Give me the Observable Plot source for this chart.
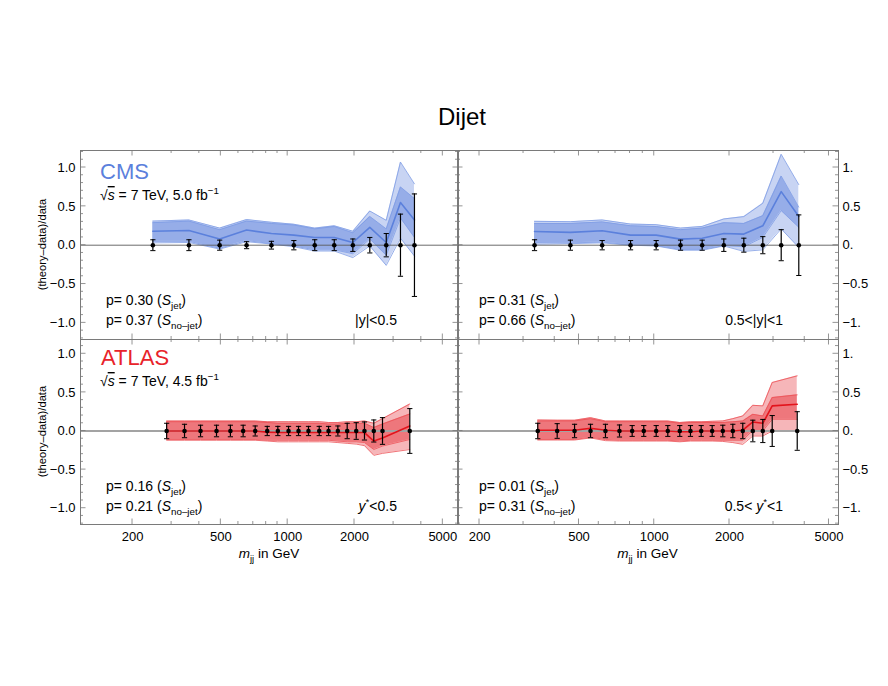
<!DOCTYPE html>
<html><head><meta charset="utf-8">
<script src="https://cdn.jsdelivr.net/npm/d3@7"></script>
<script src="https://cdn.jsdelivr.net/npm/@observablehq/plot@0.6"></script>
<style>
body{margin:0;background:#fff;font-family:"Liberation Sans",Arial,sans-serif;}
#root{position:relative;width:888px;height:686px;overflow:hidden;}
#root svg{position:absolute;left:0;top:0;}
#title{position:absolute;left:0;width:924px;top:103px;text-align:center;font-size:24px;color:#000;}
</style></head><body><div id="root"><div id="title">Dijet</div></div>
<script>
// ---------- DATA ----------
// CMS, |y|<0.5
const cmsAMass    = [247, 359, 494, 653, 845, 1066, 1324, 1621, 1966, 2344, 2780, 3222, 3725];
const cmsACentral = [0.18, 0.19, 0.08, 0.195, 0.15, 0.13, 0.10, 0.10, 0.035, 0.23, 0.035, 0.55, 0.325];
const cmsAInnerHi = [0.29, 0.31, 0.20, 0.31, 0.28, 0.26, 0.21, 0.24, 0.16, 0.37, 0.21, 0.75, 0.60];
const cmsAInnerLo = [0.05, 0.05, -0.04, 0.06, 0.02, -0.01, -0.06, -0.06, -0.11, 0.08, -0.13, 0.35, 0.10];
const cmsAOuterHi = [0.31, 0.325, 0.22, 0.33, 0.295, 0.27, 0.22, 0.25, 0.18, 0.44, 0.32, 1.07, 0.79];
const cmsAOuterLo = [0.03, 0.035, -0.05, 0.045, 0.015, -0.02, -0.075, -0.075, -0.16, -0.01, -0.26, 0.09, -0.14];
const cmsAErr     = [0.07, 0.07, 0.065, 0.045, 0.05, 0.06, 0.07, 0.07, 0.08, 0.10, 0.15, 0.40, 0.66];
// CMS, 0.5<|y|<1
const cmsBMass    = [332, 462, 619, 804, 1018, 1274, 1555, 1898, 2282, 2718, 3220, 3786];
const cmsBCentral = [0.177, 0.165, 0.186, 0.13, 0.13, 0.078, 0.09, 0.15, 0.143, 0.25, 0.69, 0.37];
const cmsBInnerHi = [0.28, 0.28, 0.30, 0.25, 0.24, 0.20, 0.22, 0.29, 0.28, 0.38, 0.89, 0.49];
const cmsBInnerLo = [0.034, 0.03, 0.04, 0.005, -0.005, -0.055, -0.055, -0.005, -0.02, 0.10, 0.445, 0.23];
const cmsBOuterHi = [0.307, 0.303, 0.325, 0.272, 0.264, 0.22, 0.242, 0.338, 0.368, 0.54, 1.17, 0.78];
const cmsBOuterLo = [0.013, 0.02, 0.03, 0.0, -0.01, -0.065, -0.065, -0.01, -0.08, -0.06, 0.21, -0.03];
const cmsBErr     = [0.07, 0.065, 0.06, 0.06, 0.06, 0.065, 0.065, 0.08, 0.09, 0.11, 0.20, 0.39];
// ATLAS, y*<0.5
const atlasAMass    = [285, 343, 405, 478, 552, 630, 714, 809, 903, 1009, 1119, 1241, 1387, 1528, 1683, 1854, 2036, 2218, 2443, 2674, 3549];
const atlasACentral = [0.0, 0.0, 0.0, 0.0, 0.0, 0.0, 0.0, -0.015, -0.02, -0.02, -0.02, -0.02, -0.02, -0.02, -0.02, -0.02, -0.02, -0.02, -0.13, -0.09, 0.065];
const atlasAInnerHi = [0.12, 0.12, 0.12, 0.12, 0.12, 0.12, 0.12, 0.11, 0.10, 0.10, 0.10, 0.10, 0.10, 0.09, 0.09, 0.10, 0.10, 0.10, 0.045, 0.09, 0.22];
const atlasAInnerLo = [-0.11, -0.11, -0.11, -0.11, -0.11, -0.11, -0.11, -0.12, -0.12, -0.12, -0.12, -0.12, -0.12, -0.12, -0.13, -0.14, -0.14, -0.15, -0.24, -0.195, -0.11];
const atlasAOuterHi = [0.13, 0.13, 0.13, 0.13, 0.13, 0.13, 0.13, 0.12, 0.12, 0.12, 0.12, 0.12, 0.12, 0.11, 0.11, 0.12, 0.12, 0.13, 0.10, 0.16, 0.35];
const atlasAOuterLo = [-0.12, -0.12, -0.12, -0.12, -0.12, -0.12, -0.12, -0.13, -0.14, -0.14, -0.14, -0.14, -0.14, -0.14, -0.15, -0.16, -0.17, -0.19, -0.315, -0.29, -0.24];
const atlasAErr     = [0.10, 0.087, 0.075, 0.075, 0.075, 0.075, 0.065, 0.06, 0.06, 0.06, 0.06, 0.06, 0.06, 0.06, 0.065, 0.10, 0.108, 0.117, 0.143, 0.173, 0.29];
// ATLAS, 0.5<y*<1
const atlasBMass    = [342, 409, 480, 556, 638, 726, 816, 908, 1018, 1133, 1265, 1396, 1541, 1705, 1880, 2062, 2260, 2479, 2718, 2964, 3732];
const atlasBCentral = [0.01, 0.01, 0.01, 0.035, 0.01, 0.0, 0.0, 0.0, 0.0, 0.0, -0.01, -0.01, 0.0, 0.0, 0.0, 0.0, 0.01, 0.117, 0.10, 0.325, 0.346];
const atlasBInnerHi = [0.13, 0.13, 0.13, 0.16, 0.12, 0.12, 0.12, 0.12, 0.12, 0.12, 0.10, 0.11, 0.11, 0.11, 0.11, 0.12, 0.13, 0.216, 0.195, 0.433, 0.468];
const atlasBInnerLo = [-0.11, -0.11, -0.11, -0.08, -0.11, -0.12, -0.12, -0.12, -0.12, -0.12, -0.13, -0.12, -0.12, -0.12, -0.12, -0.12, -0.12, 0.009, 0.0, 0.152, 0.152];
const atlasBOuterHi = [0.143, 0.14, 0.14, 0.173, 0.13, 0.13, 0.13, 0.13, 0.13, 0.13, 0.11, 0.12, 0.12, 0.125, 0.13, 0.16, 0.195, 0.333, 0.325, 0.628, 0.714];
const atlasBOuterLo = [-0.117, -0.117, -0.117, -0.09, -0.125, -0.13, -0.13, -0.13, -0.13, -0.13, -0.14, -0.13, -0.13, -0.13, -0.135, -0.15, -0.173, -0.065, -0.065, 0.0, 0.0];
const atlasBErr     = [0.10, 0.095, 0.087, 0.087, 0.087, 0.078, 0.07, 0.07, 0.07, 0.07, 0.07, 0.07, 0.07, 0.07, 0.075, 0.087, 0.10, 0.14, 0.15, 0.20, 0.25];

// tick labels
const xTickLabels = [200, 500, 1000, 2000, 5000];
const xMinorTicks = [300, 400, 600, 700, 800, 900, 3000, 4000];
const yTickValues = [-1, -0.5, 0, 0.5, 1];
const yTickLeftLabels  = ["\u22121.0", "\u22120.5", "0.0", "0.5", "1.0"];
const yTickRightLabels = ["\u22121.", "\u22120.5", "0.", "0.5", "1."];
const yMinorTicks = [-1.2, -1.1, -0.9, -0.8, -0.7, -0.6, -0.4, -0.3, -0.2, -0.1, 0.1, 0.2, 0.3, 0.4, 0.6, 0.7, 0.8, 0.9, 1.1, 1.2];

// ---------- STYLE ----------
const FONT = '"Liberation Sans", Arial, sans-serif';
const FRAME = "#7a7a7a";
const CMS = {text: "#5b80dc", outer: "#c8d4f3", inner: "#96ade8", edge: "#7e9ce4", central: "#5b80dc", zero: "#5a5a5a", zeroW: 0.9};
const ATL = {text: "#e8232a", outer: "#f6b6b9", inner: "#ee777c", edge: "#ec5056", central: "#e3141c", zero: "#a3a3a3", zeroW: 2};

function rows(mass, c, iHi, iLo, oHi, oLo, err) {
  return mass.map((m, i) => ({m, c: c[i], iHi: iHi[i], iLo: iLo[i], oHi: oHi[i], oLo: oLo[i], err: err[i]}));
}

const capSymbol = {draw(ctx, size) { const w = Math.sqrt(size / Math.PI); ctx.moveTo(-w, 0); ctx.lineTo(w, 0); }};

function rich(g, x, y, parts, {size = 14, anchor = "start", fill = "black"} = {}) {
  const t = g.append("text").attr("x", x).attr("y", y).attr("font-size", size)
    .attr("fill", fill).attr("text-anchor", anchor).style("white-space", "pre");
  let shift = 0;
  for (const p of parts) {
    const o = typeof p === "string" ? {t: p} : p;
    const sp = t.append("tspan").text(o.t);
    const target = o.sub ? size * 0.3 : o.sup ? -size * 0.4 : 0;
    if (target !== shift) { sp.attr("dy", target - shift); shift = target; }
    if (o.sub || o.sup) sp.attr("font-size", size * 0.7);
    if (o.it) sp.attr("font-style", "italic");
    if (o.over) sp.style("text-decoration", "overline");
  }
  return t;
}

function frameTicks(xMaj, xMin) {
  return (index, scales, values, dims) => {
    const L = dims.marginLeft, R = dims.width - dims.marginRight, T = dims.marginTop, B = dims.height - dims.marginBottom;
    const g = d3.create("svg:g").attr("stroke", FRAME).attr("stroke-width", 0.8);
    for (const [vals, len] of [[xMaj, 5.5], [xMin, 3]]) for (const v of vals) {
      const x = scales.x(v); if (x < L || x > R) continue;
      g.append("line").attr("x1", x).attr("x2", x).attr("y1", B).attr("y2", B - len);
      g.append("line").attr("x1", x).attr("x2", x).attr("y1", T).attr("y2", T + len);
    }
    for (const [vals, len] of [[yTickValues, 5.5], [yMinorTicks, 3]]) for (const v of vals) {
      const y = scales.y(v); if (y < T - 0.5 || y > B + 0.5) continue;
      g.append("line").attr("x1", L).attr("x2", L + len).attr("y1", y).attr("y2", y);
      g.append("line").attr("x1", R).attr("x2", R - len).attr("y1", y).attr("y2", y);
    }
    return g.node();
  };
}

function annotations(spec) {
  return (index, scales, values, dims) => {
    const L = dims.marginLeft, R = dims.width - dims.marginRight, T = dims.marginTop, B = dims.height - dims.marginBottom;
    const g = d3.create("svg:g").attr("font-family", FONT);
    spec(g, {L, R, T, B});
    return g.node();
  };
}

function panel(o) {
  const data = o.data, col = o.col;
  const marks = [
    Plot.areaY(data, {x: "m", y1: "oLo", y2: "oHi", fill: col.outer, curve: "linear"}),
    Plot.areaY(data, {x: "m", y1: "iLo", y2: "iHi", fill: col.inner, curve: "linear"}),
    Plot.lineY(data, {x: "m", y: "oHi", stroke: col.edge, strokeWidth: 0.8}),
    Plot.lineY(data, {x: "m", y: "oLo", stroke: col.edge, strokeWidth: 0.8}),
    Plot.lineY(data, {x: "m", y: "iHi", stroke: col.edge, strokeWidth: 0.8}),
    Plot.lineY(data, {x: "m", y: "iLo", stroke: col.edge, strokeWidth: 0.8}),
    Plot.ruleY([0], {stroke: col.zero, strokeWidth: col.zeroW}),
    Plot.lineY(data, {x: "m", y: "c", stroke: col.central, strokeWidth: 1.6}),
    Plot.ruleX(data, {x: "m", y1: d => -d.err, y2: d => d.err, stroke: "black", strokeWidth: 1.2}),
    Plot.dot(data, {x: "m", y: d => d.err, symbol: capSymbol, r: 2.6, fill: "none", stroke: "black", strokeWidth: 1}),
    Plot.dot(data, {x: "m", y: d => -d.err, symbol: capSymbol, r: 2.6, fill: "none", stroke: "black", strokeWidth: 1}),
    Plot.dot(data, {x: "m", y: () => 0, r: 2.3, fill: "black", stroke: "none"}),
    Plot.frame({stroke: FRAME, strokeWidth: 1}),
    frameTicks(xTickLabels, xMinorTicks),
    o.side === "left"
      ? Plot.axisY({anchor: "left", ticks: yTickValues, tickSize: 0, tickPadding: 5, label: null, fontSize: 13,
          tickFormat: d => yTickLeftLabels[yTickValues.indexOf(d)]})
      : Plot.axisY({anchor: "right", ticks: yTickValues, tickSize: 0, tickPadding: 4, label: null, fontSize: 13,
          tickFormat: d => yTickRightLabels[yTickValues.indexOf(d)]}),
    annotations(o.text)
  ];
  if (o.bottom) marks.push(Plot.axisX({anchor: "bottom", ticks: xTickLabels, tickSize: 0, tickPadding: 7, label: null, fontSize: 13, tickFormat: d => String(d)}));
  return Plot.plot({
    width: 888, height: 686,
    marginLeft: o.box[0], marginRight: 888 - o.box[1], marginTop: o.box[2], marginBottom: 686 - o.box[3],
    x: {type: "log", domain: o.xDomain, axis: null},
    y: {domain: o.yDomain, axis: null},
    style: {background: "transparent", overflow: "visible", fontFamily: FONT, color: "black"},
    marks
  });
}

const sqrtLine = (lumi) => ["\u221A", {t: "s", it: true, over: true}, " = 7 TeV, " + lumi + " fb", {t: "\u22121", sup: true}];
const pLines = (g, x, y1, y2, pj, pn) => {
  rich(g, x, y1, ["p= " + pj + " (", {t: "S", it: true}, {t: "jet", sub: true}, ")"]);
  rich(g, x, y2, ["p= " + pn + " (", {t: "S", it: true}, {t: "no\u2013jet", sub: true}, ")"]);
};
const yLabel = (g, cy) => g.append("text").attr("transform", `translate(46,${cy}) rotate(-90)`)
  .attr("text-anchor", "middle").attr("font-size", 11.2).text("(theory\u2013data)/data");
const xLabel = (g, cx, y) => rich(g, cx, y, [{t: "m", it: true}, {t: "jj", sub: true}, " in GeV"], {size: 13.5, anchor: "middle"});

const leftX = [116.6, 5882], rightX = [163.3, 5458];
const topY = [-1.214, 1.219], botY = [-1.211, 1.185];

const root = document.getElementById("root");
root.append(panel({
  data: rows(cmsAMass, cmsACentral, cmsAInnerHi, cmsAInnerLo, cmsAOuterHi, cmsAOuterLo, cmsAErr), col: CMS,
  box: [80, 458, 150, 339], xDomain: leftX, yDomain: topY, side: "left", bottom: false,
  text: (g, {L, R, T, B}) => {
    rich(g, L + 20, T + 29, ["CMS"], {size: 22, fill: CMS.text});
    rich(g, L + 20, T + 50, sqrtLine("5.0"));
    pLines(g, L + 26, B - 34, B - 14, "0.30", "0.37");
    rich(g, R - 61, B - 14, ["|y|<0.5"], {anchor: "end"});
    yLabel(g, (T + B) / 2);
  }
}));
root.append(panel({
  data: rows(cmsBMass, cmsBCentral, cmsBInnerHi, cmsBInnerLo, cmsBOuterHi, cmsBOuterLo, cmsBErr), col: CMS,
  box: [457, 838, 150, 339], xDomain: rightX, yDomain: topY, side: "right", bottom: false,
  text: (g, {L, R, T, B}) => {
    pLines(g, L + 22, B - 34, B - 14, "0.31", "0.66");
    rich(g, R - 55, B - 14, ["0.5<|y|<1"], {anchor: "end"});
  }
}));
root.append(panel({
  data: rows(atlasAMass, atlasACentral, atlasAInnerHi, atlasAInnerLo, atlasAOuterHi, atlasAOuterLo, atlasAErr), col: ATL,
  box: [80, 458, 339, 524], xDomain: leftX, yDomain: botY, side: "left", bottom: true,
  text: (g, {L, R, T, B}) => {
    rich(g, L + 21, T + 26, ["ATLAS"], {size: 22, fill: ATL.text});
    rich(g, L + 20, T + 47, sqrtLine("4.5"));
    pLines(g, L + 26, B - 33, B - 13, "0.16", "0.21");
    rich(g, R - 61, B - 13, [{t: "y", it: true}, {t: "*", sup: true}, "<0.5"], {anchor: "end"});
    yLabel(g, (T + B) / 2);
    xLabel(g, (L + R) / 2, B + 34);
  }
}));
root.append(panel({
  data: rows(atlasBMass, atlasBCentral, atlasBInnerHi, atlasBInnerLo, atlasBOuterHi, atlasBOuterLo, atlasBErr), col: ATL,
  box: [457, 838, 339, 524], xDomain: rightX, yDomain: botY, side: "right", bottom: true,
  text: (g, {L, R, T, B}) => {
    pLines(g, L + 22, B - 33, B - 13, "0.01", "0.31");
    rich(g, R - 55, B - 13, ["0.5< ", {t: "y", it: true}, {t: "*", sup: true}, "<1"], {anchor: "end"});
    xLabel(g, (L + R) / 2, B + 34);
  }
}));
</script></body></html>
